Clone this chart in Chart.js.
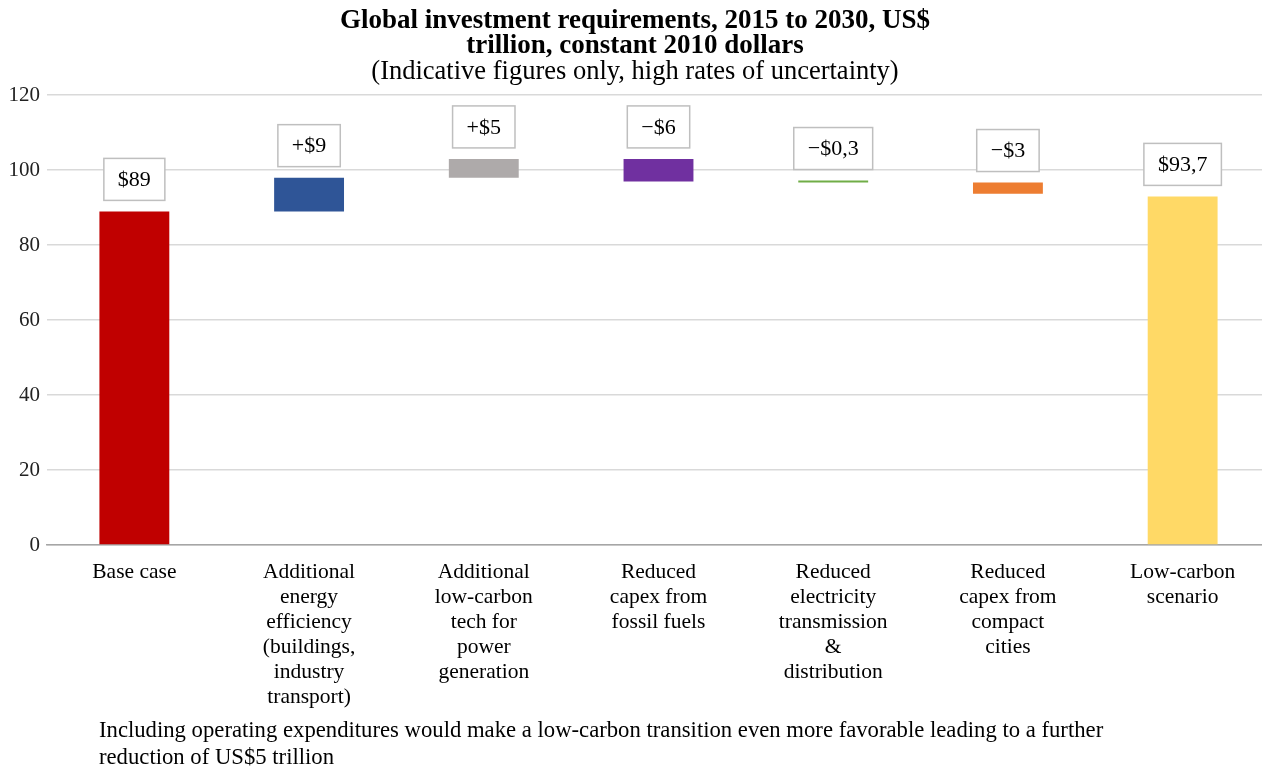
<!DOCTYPE html>
<html>
<head>
<meta charset="utf-8">
<script src="https://cdn.jsdelivr.net/npm/chart.js@4.4.1/dist/chart.umd.min.js"></script>
<style>
  html, body { margin: 0; padding: 0; background: #fff; overflow: hidden; }
  #wrap { position: relative; width: 1262px; height: 766px; overflow: hidden; }
  #chart { position: absolute; left: 0; top: 0; }
  #note { position: absolute; left: 99px; top: 716px; font: 22.7px 'Liberation Serif', serif; line-height: 27px; color: #000; white-space: nowrap; }
</style>
</head>
<body>
<div id="wrap">
  <canvas id="chart" width="1270" height="766"></canvas>
  <div id="note">Including operating expenditures would make a low-carbon transition even more favorable leading to a further<br>reduction of US$5 trillion</div>
</div>
<script>
// categories (multi-line labels)
var categories = [
  ['Base case'],
  ['Additional', 'energy', 'efficiency', '(buildings,', 'industry', 'transport)'],
  ['Additional', 'low-carbon', 'tech for', 'power', 'generation'],
  ['Reduced', 'capex from', 'fossil fuels'],
  ['Reduced', 'electricity', 'transmission', '&', 'distribution'],
  ['Reduced', 'capex from', 'compact', 'cities'],
  ['Low-carbon', 'scenario']
];
// waterfall: start and end of each floating bar
var barStart = [0, 89, 98, 97, 96.7, 93.7, 0];
var barEnd = [89, 98, 103, 103, 97, 96.7, 93];
var boxLabels = ['$89', '+$9', '+$5', '\u2212$6', '\u2212$0,3', '\u2212$3', '$93,7'];
var barColors = ['#C00000', '#2F5597', '#AEAAAA', '#7030A0', '#70AD47', '#ED7D31', '#FFD966'];
var yMin = 0, yMax = 120, yStep = 20;

var serif = "'Liberation Serif', 'Times New Roman', serif";

var floating = [];
for (var i = 0; i < barStart.length; i++) {
  floating.push([barStart[i], barEnd[i]]);
}

// boxed labels above every bar
var boxLabelPlugin = {
  id: 'boxLabels',
  afterDatasetsDraw: function(chart) {
    var ctx = chart.ctx;
    var meta = chart.getDatasetMeta(0);
    ctx.save();
    ctx.font = '22px ' + serif;
    ctx.textAlign = 'center';
    ctx.textBaseline = 'middle';
    meta.data.forEach(function(bar, i) {
      var top = Math.min(bar.y, bar.base);
      var w = ctx.measureText(boxLabels[i]).width + 28;
      var h = 42;
      var x = bar.x - w / 2;
      var y = top - 11 - h;
      ctx.fillStyle = '#fff';
      ctx.fillRect(x, y, w, h);
      ctx.strokeStyle = '#BFBFBF';
      ctx.lineWidth = 1.5;
      ctx.strokeRect(x, y, w, h);
      ctx.fillStyle = '#000';
      ctx.fillText(boxLabels[i], bar.x, y + h / 2 + 1);
    });
    ctx.restore();
  }
};

var chrt = document.getElementById('chart').getContext('2d');
var myChart = new Chart(chrt, {
  type: 'bar',
  data: {
    labels: categories,
    datasets: [{
      data: floating,
      backgroundColor: barColors,
      borderWidth: 0,
      minBarLength: 2,
      barPercentage: 0.4,
      categoryPercentage: 1
    }]
  },
  options: {
    responsive: false,
    animation: false,
    layout: { padding: { top: 0, right: 0, bottom: 0, left: 0 } },
    plugins: {
      legend: { display: false },
      tooltip: { enabled: false },
      title: {
        display: true,
        text: ['Global investment requirements, 2015 to 2030, US$', 'trillion, constant 2010 dollars'],
        color: '#000',
        font: { family: serif, size: 27, weight: 'bold', lineHeight: 0.93 },
        padding: { top: 8, bottom: 0 }
      },
      subtitle: {
        display: true,
        text: '(Indicative figures only, high rates of uncertainty)',
        color: '#000',
        font: { family: serif, size: 26.5, lineHeight: 0.98 },
        padding: { top: 1, bottom: 10 }
      }
    },
    scales: {
      x: {
        grid: { display: false },
        border: { display: true, color: '#A6A6A6', width: 1.5 },
        ticks: {
          color: '#000',
          font: { family: serif, size: 21.5, lineHeight: 1.16 },
          padding: 7,
          maxRotation: 0,
          autoSkip: false
        },
        afterFit: function(scale) { scale.height = 221; }
      },
      y: {
        min: yMin,
        max: yMax,
        grid: { color: '#D9D9D9', lineWidth: 1.5, drawTicks: false },
        border: { display: false },
        ticks: {
          stepSize: yStep,
          color: '#222',
          font: { family: serif, size: 21 },
          padding: 7
        },
        afterFit: function(scale) { scale.width = 47; }
      }
    }
  },
  plugins: [boxLabelPlugin]
});
</script>
</body>
</html>
